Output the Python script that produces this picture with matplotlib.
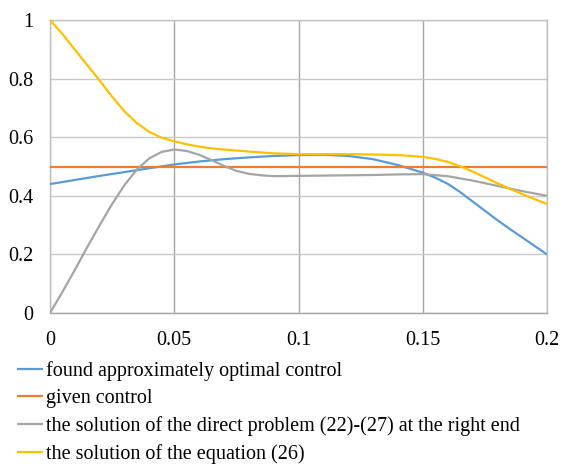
import matplotlib
matplotlib.use("Agg")
import matplotlib.pyplot as plt

plt.rcParams['font.family'] = ['Liberation Serif', 'DejaVu Serif']

x_blue = [0, 0.01, 0.02, 0.03, 0.04, 0.05, 0.06, 0.07, 0.08, 0.09, 0.1, 0.11, 0.12, 0.13, 0.14, 0.15, 0.155, 0.16, 0.165, 0.17, 0.175, 0.18, 0.185, 0.19, 0.195, 0.2]
y_blue = [0.44, 0.454, 0.468, 0.481, 0.494, 0.507, 0.517, 0.525, 0.531, 0.536, 0.539, 0.540, 0.536, 0.525, 0.505, 0.479, 0.462, 0.441, 0.413, 0.381, 0.349, 0.317, 0.287, 0.258, 0.229, 0.2]

x_orange = [0, 0.2]
y_orange = [0.5, 0.5]

x_gray = [0, 0.005, 0.01, 0.015, 0.02, 0.025, 0.03, 0.035, 0.04, 0.045, 0.05, 0.055, 0.06, 0.065, 0.07, 0.075, 0.08, 0.085, 0.09, 0.1, 0.11, 0.12, 0.13, 0.14, 0.15, 0.16, 0.17, 0.18, 0.19, 0.2]
y_gray = [0.0, 0.072, 0.147, 0.225, 0.30, 0.372, 0.437, 0.49, 0.528, 0.55, 0.558, 0.553, 0.54, 0.522, 0.502, 0.485, 0.475, 0.47, 0.467, 0.468, 0.469, 0.470, 0.471, 0.473, 0.474, 0.467, 0.452, 0.434, 0.416, 0.40]

x_yellow = [0, 0.005, 0.01, 0.015, 0.02, 0.025, 0.03, 0.035, 0.04, 0.045, 0.05, 0.055, 0.06, 0.065, 0.07, 0.08, 0.09, 0.1, 0.11, 0.12, 0.13, 0.14, 0.15, 0.155, 0.16, 0.165, 0.17, 0.175, 0.18, 0.185, 0.19, 0.195, 0.2]
y_yellow = [1.0, 0.952, 0.899, 0.846, 0.793, 0.738, 0.688, 0.648, 0.618, 0.598, 0.586, 0.576, 0.568, 0.562, 0.558, 0.551, 0.545, 0.542, 0.542, 0.542, 0.541, 0.539, 0.533, 0.526, 0.516, 0.501, 0.483, 0.463, 0.443, 0.424, 0.406, 0.389, 0.372]

labels = ["found approximately optimal control",
          "given control",
          "the solution of the direct problem (22)-(27) at the right end",
          "the solution of the equation (26)"]
colors = ["#5B9BD5", "#ED7D31", "#A5A5A5", "#FFC000"]

xticks = [0, 0.05, 0.1, 0.15, 0.2]
xticklabels = ["0", "0.05", "0.1", "0.15", "0.2"]
yticks = [0, 0.2, 0.4, 0.6, 0.8, 1.0]
yticklabels = ["0", "0.2", "0.4", "0.6", "0.8", "1"]

fig = plt.figure(figsize=(5.63, 4.67), dpi=100)
ax = fig.add_axes([50/563, 1-313/467, 497/563, 293/467])

series = [(x_blue, y_blue), (x_orange, y_orange), (x_gray, y_gray), (x_yellow, y_yellow)]
lines = []
for (xs, ys), c, lab in zip(series, colors, labels):
    l, = ax.plot(xs, ys, color=c, lw=1.6, label=lab, solid_capstyle='butt',
                 solid_joinstyle='round', zorder=3)
    lines.append(l)

ax.set_xlim(0, 0.2)
ax.set_ylim(0, 1)
ax.set_xticks(xticks)
ax.set_xticklabels(xticklabels)
ax.set_yticks(yticks)
ax.set_yticklabels(yticklabels)
ax.tick_params(axis='both', length=0, labelsize=14.5)
ax.tick_params(axis='x', pad=13)
ax.tick_params(axis='y', pad=12)
ax.xaxis.grid(True, color='#A6A6A6', lw=1)
ax.yaxis.grid(True, color='#C8C8C8', lw=1)
ax.set_axisbelow(True)
for side in ['left', 'bottom', 'top', 'right']:
    ax.spines[side].set_color('#C0C0C0')
    ax.spines[side].set_linewidth(1)
ax.spines['bottom'].set_color('#A6A6A6')

fig.legend(handles=lines, labels=labels, loc='upper left',
           bbox_to_anchor=(17/563, 1-361/467), frameon=False,
           fontsize=14.5, handlelength=1.3, handletextpad=0.15,
           labelspacing=0.40, borderaxespad=0, borderpad=0)

fig.savefig("out.png", dpi=100)
